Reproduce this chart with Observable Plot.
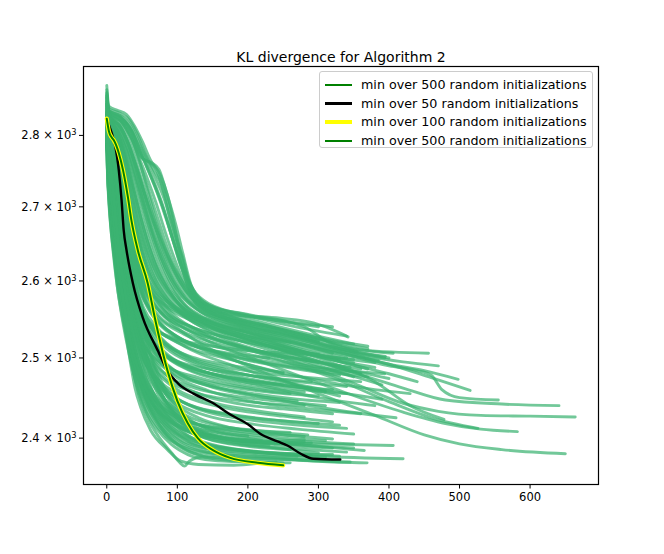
<!DOCTYPE html>
<html><head><meta charset="utf-8">
<script src="https://cdn.jsdelivr.net/npm/d3@7"></script>
<script src="https://cdn.jsdelivr.net/npm/@observablehq/plot@0.6"></script>
<style>
body{margin:0;background:#fff;font-family:"DejaVu Sans",sans-serif;}
#wrap{position:relative;width:664px;height:554px;}
#legend{position:absolute;left:319px;top:71px;width:274px;height:77px;box-sizing:border-box;border:1px solid #cccccc;border-radius:3px;background:rgba(255,255,255,0.8);font-size:12.7px;color:#000;}
.item{position:absolute;left:0;width:100%;height:18px;}
.sw{position:absolute;left:5px;width:27px;top:50%;}
.lab{position:absolute;left:41px;top:0;line-height:18px;white-space:nowrap;}
</style></head>
<body><div id="wrap"></div>
<script>
// ---- data (iteration, KL divergence) ----
const title = "KL divergence for Algorithm 2";
const xTicks = [0, 100, 200, 300, 400, 500, 600];
const yTicks = [2400, 2500, 2600, 2700, 2800];
const legendLabels = [
  "min over 500 random initializations",
  "min over 50 random initializations",
  "min over 100 random initializations",
  "min over 500 random initializations"
];

const best50 = [[0,2824],[3,2815],[8,2800],[12,2785],[17,2751],[21,2709],[24,2668],[28,2641],[37,2597],[51,2552],[72,2510],[86,2484],[102,2467],[123,2455],[151,2443],[175,2429],[200,2417],[218,2405],[242,2396],[256,2391],[275,2381],[293,2375],[331,2374]];
const best100 = [[0,2824],[3,2806],[7,2797],[10,2793],[17,2775],[23,2751],[30,2713],[35,2681],[44,2641],[58,2597],[68,2552],[86,2484],[100,2446],[115,2418],[129,2400],[151,2385],[175,2376],[214,2370],[250,2367]];
const best500 = [[0,2824],[3,2806],[7,2797],[10,2793],[17,2775],[23,2751],[30,2713],[35,2681],[44,2641],[58,2597],[68,2552],[86,2484],[100,2446],[115,2418],[129,2400],[151,2385],[175,2376],[214,2370],[250,2367]];

const lateRuns = [
  [[0,2872],[3,2842],[15,2836],[28,2830],[40,2812],[51,2790],[62,2765],[76,2744],[86,2716],[93,2688],[100,2654],[109,2627],[116,2601],[126,2577],[150,2561],[178,2556],[246,2551],[293,2545],[331,2532],[342,2527]],
  [[0,2866],[3,2838],[18,2832],[32,2822],[44,2800],[55,2772],[66,2752],[78,2730],[88,2700],[96,2670],[105,2635],[114,2603],[124,2582],[145,2567],[200,2556],[280,2540],[317,2519],[364,2510],[456,2506]],
  [[0,2858],[3,2834],[20,2825],[35,2805],[45,2778],[52,2766],[64,2761],[74,2752],[84,2722],[98,2675],[108,2636],[119,2596],[133,2572],[160,2557],[220,2543],[300,2525],[350,2512],[406,2506]],
  [[0,2850],[3,2830],[22,2818],[38,2790],[48,2770],[60,2762],[70,2752],[80,2722],[92,2672],[103,2630],[114,2595],[128,2568],[170,2548],[250,2530],[330,2510],[400,2492],[450,2484],[498,2473]],
  [[0,2846],[3,2828],[20,2812],[32,2785],[42,2755],[54,2716],[66,2680],[78,2650],[90,2623],[104,2598],[120,2578],[150,2558],[220,2535],[320,2510],[400,2490],[440,2484],[460,2478],[475,2460],[500,2450],[555,2447]],
  [[0,2842],[3,2824],[15,2808],[28,2780],[40,2740],[52,2698],[64,2660],[76,2628],[90,2598],[105,2575],[130,2553],[200,2533],[300,2512],[400,2492],[460,2475],[515,2459]],
  [[0,2838],[2,2820],[12,2806],[25,2775],[38,2725],[50,2678],[62,2640],[74,2612],[88,2588],[105,2566],[140,2543],[220,2518],[320,2490],[420,2462],[480,2447],[560,2442],[641,2440]],
  [[0,2834],[2,2818],[10,2804],[22,2770],[34,2715],[46,2665],[58,2627],[70,2600],[85,2578],[100,2562],[150,2532],[250,2500],[350,2468],[420,2443],[470,2433],[530,2428],[600,2427],[664,2426]],
  [[0,2830],[2,2815],[12,2793],[24,2745],[35,2695],[47,2648],[60,2610],[75,2585],[95,2566],[130,2545],[200,2525],[300,2500],[380,2470],[430,2440],[478,2423]],
  [[0,2826],[2,2812],[10,2795],[20,2760],[32,2700],[44,2650],[56,2612],[70,2585],[90,2560],[130,2535],[220,2505],[320,2475],[400,2445],[460,2425],[526,2412]],
  [[0,2822],[2,2808],[10,2788],[20,2745],[30,2690],[42,2640],[55,2600],[70,2575],[90,2553],[130,2528],[220,2495],[320,2462],[420,2432],[480,2418],[530,2411],[582,2408]],
  [[0,2818],[2,2802],[8,2785],[18,2740],[28,2680],[40,2630],[52,2595],[68,2568],[90,2546],[130,2520],[200,2490],[300,2455],[380,2428],[450,2404],[500,2393],[560,2386],[650,2381]],
  [[0,2855],[3,2833],[20,2822],[35,2798],[46,2765],[58,2722],[70,2680],[82,2645],[95,2615],[110,2590],[130,2568],[180,2548],[260,2530],[300,2522]],
  [[0,2848],[3,2829],[18,2815],[30,2790],[42,2750],[54,2705],[66,2665],[80,2630],[95,2600],[112,2578],[140,2560],[200,2545],[280,2525],[360,2505],[394,2500]],
  [[0,2862],[3,2836],[18,2828],[32,2812],[44,2788],[56,2760],[68,2732],[80,2700],[92,2660],[104,2622],[116,2592],[130,2570],[170,2552],[240,2538],[320,2522],[370,2515]],
  [[0,2852],[3,2832],[20,2820],[34,2798],[46,2768],[58,2738],[70,2705],[82,2668],[95,2632],[108,2602],[122,2580],[150,2563],[210,2548],[290,2530],[350,2518]],
  [[0,2844],[3,2827],[18,2812],[30,2788],[42,2754],[54,2715],[66,2676],[78,2640],[92,2608],[106,2585],[125,2565],[170,2545],[250,2525],[330,2505],[385,2497]],
  [[0,2840],[3,2824],[15,2808],[27,2780],[38,2742],[50,2700],[62,2658],[74,2625],[88,2597],[104,2575],[130,2556],[190,2536],[270,2515],[340,2500]],
  [[0,2836],[2,2820],[14,2805],[26,2772],[37,2728],[48,2686],[60,2646],[72,2614],[86,2590],[102,2570],[135,2548],[200,2528],[280,2508],[330,2498]],
  [[0,2857],[3,2835],[20,2826],[36,2806],[48,2776],[60,2748],[72,2718],[84,2684],[97,2646],[110,2612],[123,2588],[145,2570],[200,2555],[270,2545],[320,2540]],
  [[0,2832],[2,2817],[12,2802],[24,2768],[35,2718],[46,2670],[58,2632],[70,2604],[85,2582],[105,2563],[150,2540],[230,2515],[300,2494],[360,2480]],
  [[0,2846],[3,2828],[18,2814],[31,2790],[43,2758],[55,2720],[67,2684],[79,2652],[92,2624],[108,2598],[128,2576],[170,2556],[240,2538],[310,2520],[355,2508]],
  [[0,2828],[2,2812],[10,2796],[22,2758],[33,2706],[45,2656],[57,2618],[70,2592],[88,2570],[115,2550],[170,2528],[250,2505],[330,2482],[390,2466]],
  [[0,2835],[2,2819],[13,2804],[25,2772],[36,2724],[48,2676],[60,2636],[73,2606],[90,2582],[112,2562],[160,2540],[240,2518],[310,2500],[380,2488]],
  [[0,2826],[2,2810],[10,2792],[20,2752],[31,2696],[43,2644],[56,2604],[70,2578],[90,2556],[125,2536],[190,2515],[280,2493],[350,2476]],
  [[0,2843],[3,2825],[16,2810],[29,2782],[41,2744],[53,2702],[65,2662],[77,2630],[91,2602],[107,2580],[130,2562],[180,2546],[260,2528],[300,2520]],
  [[0,2860],[3,2835],[18,2829],[33,2815],[45,2792],[57,2766],[69,2740],[81,2712],[92,2678],[103,2640],[114,2606],[126,2583],[150,2566],[210,2552],[290,2536],[340,2528]],
  [[0,2849],[3,2830],[20,2818],[33,2795],[45,2764],[57,2730],[69,2694],[81,2658],[94,2624],[108,2596],[124,2576],[160,2558],[230,2540],[300,2524],[370,2512]],
  [[0,2841],[3,2825],[17,2810],[29,2784],[40,2748],[52,2708],[64,2668],[76,2634],[90,2604],[106,2580],[132,2560],[190,2540],[270,2518],[320,2506]],
  [[0,2837],[2,2821],[14,2806],[26,2776],[37,2734],[49,2690],[61,2650],[73,2618],[87,2592],[104,2572],[135,2552],[200,2532],[280,2510],[350,2494]],
  [[0,2854],[3,2833],[19,2824],[34,2806],[46,2780],[58,2752],[70,2724],[82,2692],[94,2654],[106,2618],[118,2592],[134,2574],[170,2560],[240,2548],[300,2540]],
  [[0,2833],[2,2818],[12,2803],[24,2770],[35,2722],[47,2674],[59,2636],[72,2607],[87,2585],[106,2566],[150,2545],[230,2522],[310,2500],[370,2486]],
  [[0,2845],[3,2827],[18,2813],[30,2789],[42,2756],[54,2718],[66,2680],[78,2646],[92,2616],[107,2590],[126,2570],[170,2551],[250,2532],[330,2512],[395,2502]],
  [[0,2829],[2,2813],[11,2797],[22,2760],[33,2710],[45,2660],[57,2622],[70,2596],[88,2574],[112,2556],[165,2534],[250,2510],[330,2488],[400,2474]]
];

const midRuns = [
  [[0,2815],[3,2800],[10,2760],[17,2700],[24,2648],[32,2606],[44,2572],[62,2545],[100,2520],[180,2497],[280,2475],[380,2460],[430,2455]],
  [[0,2818],[4,2803],[13,2755],[21,2700],[29,2650],[38,2610],[50,2580],[70,2555],[110,2530],[200,2505],[300,2488],[394,2480]],
  [[0,2822],[4,2808],[15,2760],[24,2700],[32,2652],[42,2612],[54,2585],[74,2562],[120,2540],[200,2520],[280,2505],[350,2498]],
  [[0,2812],[3,2795],[9,2755],[15,2700],[22,2650],[30,2605],[40,2570],[56,2545],[90,2527],[150,2515],[220,2508],[300,2505]],
  [[0,2826],[5,2812],[18,2765],[27,2700],[35,2652],[45,2615],[58,2590],[80,2570],[120,2552],[190,2530],[260,2520]],
  [[0,2808],[3,2790],[8,2750],[14,2700],[20,2650],[27,2600],[36,2560],[50,2530],[80,2505],[140,2482],[220,2465],[300,2450],[380,2440]],
  [[0,2820],[4,2805],[14,2755],[22,2700],[30,2645],[40,2598],[52,2565],[70,2540],[110,2515],[180,2490],[260,2468],[330,2452]],
  [[0,2830],[6,2815],[20,2765],[30,2700],[38,2650],[48,2610],[62,2585],[85,2565],[130,2545],[220,2520],[330,2495],[400,2480],[440,2470]],
  [[0,2810],[3,2793],[10,2750],[16,2700],[23,2645],[31,2595],[42,2555],[58,2525],[90,2500],[150,2485],[220,2476],[290,2470]],
  [[0,2816],[4,2800],[12,2755],[19,2700],[27,2642],[36,2592],[48,2550],[64,2515],[95,2485],[150,2465],[240,2448],[330,2434],[410,2425]],
  [[0,2813],[3,2797],[10,2755],[17,2700],[25,2640],[34,2590],[46,2548],[62,2512],[90,2482],[140,2460],[220,2443],[300,2435],[360,2430]],
  [[0,2824],[5,2810],[16,2760],[25,2700],[33,2648],[43,2605],[56,2572],[76,2545],[110,2522],[170,2500],[250,2480]],
  [[0,2806],[3,2788],[8,2748],[13,2700],[19,2645],[26,2590],[35,2545],[48,2505],[70,2475],[110,2452],[170,2437],[250,2427],[320,2420]],
  [[0,2834],[6,2820],[22,2768],[32,2700],[40,2650],[50,2612],[64,2588],[88,2568],[140,2548],[240,2525],[350,2505],[420,2495],[470,2490]],
  [[0,2819],[4,2804],[13,2758],[20,2700],[28,2645],[37,2598],[48,2565],[66,2540],[100,2522],[160,2508],[230,2500]],
  [[0,2828],[5,2814],[18,2765],[28,2700],[36,2650],[46,2608],[60,2578],[80,2555],[120,2535],[200,2512],[280,2498],[345,2488]],
  [[0,2811],[3,2795],[9,2752],[15,2700],[22,2643],[30,2590],[40,2545],[54,2508],[78,2478],[120,2458],[200,2445],[280,2440]],
  [[0,2838],[6,2824],[24,2770],[34,2700],[42,2652],[52,2615],[66,2590],[90,2570],[150,2548],[250,2528],[330,2512],[400,2500]],
  [[0,2823],[5,2808],[16,2757],[24,2700],[31,2646],[40,2598],[52,2560],[70,2530],[105,2505],[170,2485],[260,2468],[340,2455],[390,2448]],
  [[0,2809],[3,2792],[9,2752],[15,2700],[21,2648],[29,2596],[39,2552],[53,2518],[80,2492],[130,2475],[200,2462],[260,2455]],
  [[0,2813],[3,2796],[10,2752],[16,2700],[23,2648],[31,2600],[41,2562],[55,2532],[76,2508],[110,2490],[160,2478],[230,2468],[290,2462]],
  [[0,2804],[3,2784],[8,2745],[13,2700],[19,2650],[26,2602],[35,2560],[47,2526],[66,2500],[95,2480],[140,2466],[200,2456],[270,2448],[330,2444]],
  [[0,2818],[4,2802],[13,2756],[20,2702],[28,2648],[37,2602],[48,2564],[63,2534],[85,2512],[120,2494],[180,2478],[250,2466],[310,2458]],
  [[0,2808],[3,2790],[9,2748],[14,2700],[21,2642],[29,2590],[39,2546],[52,2510],[71,2482],[100,2460],[145,2445],[210,2434],[280,2426]],
  [[0,2821],[4,2806],[14,2758],[22,2700],[30,2645],[39,2600],[50,2564],[66,2536],[90,2514],[125,2500],[180,2490],[250,2482]],
  [[0,2811],[3,2793],[10,2750],[16,2700],[23,2644],[31,2594],[41,2552],[55,2516],[74,2488],[100,2468],[140,2452],[190,2442],[250,2436],[320,2430]],
  [[0,2825],[5,2810],[16,2760],[25,2700],[33,2646],[42,2604],[54,2572],[70,2548],[95,2528],[135,2512],[195,2498],[270,2486],[330,2478]],
  [[0,2807],[3,2786],[9,2740],[14,2690],[20,2638],[28,2588],[37,2544],[49,2506],[65,2476],[88,2454],[120,2440],[170,2430],[230,2423],[300,2418]],
  [[0,2815],[4,2798],[12,2752],[18,2702],[25,2648],[34,2598],[44,2558],[58,2524],[78,2497],[108,2477],[150,2463],[210,2452],[270,2446]],
  [[0,2830],[5,2815],[19,2764],[29,2700],[37,2650],[47,2610],[60,2580],[78,2558],[105,2540],[150,2524],[220,2508],[300,2494],[360,2486]],
  [[0,2817],[4,2800],[12,2754],[19,2698],[26,2645],[35,2598],[46,2560],[61,2528],[82,2504],[115,2486],[165,2474],[230,2465],[300,2458],[340,2455]]
];

const lowRuns = [
  [[0,2782],[1,2745],[3,2705],[6,2668],[10,2635],[15,2592],[21,2558],[27,2530],[33,2497],[40,2462],[48,2438],[62,2410],[86,2386],[105,2372],[130,2368],[180,2367],[220,2370]],
  [[0,2790],[2,2750],[5,2700],[9,2655],[14,2610],[20,2570],[28,2530],[36,2490],[45,2455],[58,2425],[75,2400],[92,2382],[104,2370],[110,2366],[117,2372],[135,2377],[180,2376],[260,2374],[330,2372]],
  [[0,2795],[2,2765],[6,2715],[10,2670],[16,2620],[24,2575],[32,2540],[42,2500],[54,2465],[68,2438],[88,2414],[115,2396],[150,2385],[220,2378],[300,2372],[369,2370]],
  [[0,2800],[3,2770],[8,2715],[13,2665],[20,2615],[28,2575],[38,2535],[50,2495],[64,2460],[80,2435],[105,2410],[140,2393],[200,2384],[300,2378],[420,2375]],
  [[0,2805],[3,2775],[9,2720],[15,2665],[22,2620],[30,2585],[40,2550],[52,2510],[66,2475],[84,2445],[110,2420],[150,2402],[220,2395],[300,2393],[406,2391]],
  [[0,2808],[3,2785],[10,2725],[17,2665],[25,2615],[34,2575],[45,2535],[58,2495],[74,2460],[95,2432],[125,2410],[170,2397],[240,2388],[300,2382]],
  [[0,2812],[3,2790],[11,2730],[19,2665],[27,2615],[36,2575],[48,2530],[62,2485],[80,2448],[104,2420],[140,2400],[200,2390],[260,2386]],
  [[0,2800],[2,2770],[7,2715],[12,2660],[18,2610],[26,2565],[35,2520],[46,2475],[60,2440],[78,2412],[100,2393],[130,2380],[180,2374],[250,2370]],
  [[0,2816],[3,2796],[12,2735],[21,2665],[30,2610],[40,2565],[52,2520],[66,2478],[84,2445],[108,2420],[145,2405],[210,2395],[280,2398]],
  [[0,2820],[4,2800],[14,2740],[23,2670],[32,2615],[42,2570],[55,2525],[70,2480],[90,2445],[115,2420],[150,2405],[200,2397],[250,2393],[350,2388]],
  [[0,2806],[3,2780],[10,2720],[16,2670],[24,2620],[33,2575],[44,2530],[56,2490],[72,2455],[92,2430],[120,2412],[160,2402],[220,2397]],
  [[0,2798],[2,2770],[7,2720],[13,2665],[20,2610],[28,2565],[38,2520],[50,2480],[64,2450],[82,2425],[110,2405],[150,2392],[210,2384],[290,2380],[330,2378]],
  [[0,2803],[2,2776],[8,2720],[14,2660],[22,2605],[31,2560],[42,2515],[54,2478],[70,2450],[92,2425],[125,2408],[180,2398],[240,2393],[280,2395]],
  [[0,2790],[2,2755],[5,2712],[9,2668],[14,2622],[20,2585],[28,2548],[38,2510],[50,2472],[64,2440],[82,2415],[104,2398],[140,2388],[200,2382],[270,2378]],
  [[0,2810],[3,2790],[12,2735],[20,2675],[28,2625],[38,2580],[50,2540],[64,2500],[82,2462],[106,2432],[140,2412],[200,2400],[300,2390],[365,2385]],
  [[0,2786],[1,2748],[3,2712],[6,2675],[10,2640],[15,2600],[21,2565],[28,2528],[36,2490],[45,2458],[56,2432],[72,2410],[92,2392],[115,2380],[150,2373],[200,2371],[260,2370]],
  [[0,2792],[2,2756],[5,2710],[9,2665],[14,2618],[20,2576],[27,2540],[35,2505],[45,2470],[58,2440],[75,2416],[96,2398],[125,2386],[170,2380],[230,2377],[300,2376]],
  [[0,2797],[2,2764],[6,2716],[11,2666],[17,2614],[24,2570],[33,2528],[44,2488],[57,2455],[74,2430],[97,2410],[128,2396],[170,2388],[230,2382],[290,2379]],
  [[0,2788],[1,2752],[4,2706],[7,2668],[11,2630],[17,2590],[24,2552],[32,2514],[41,2478],[52,2450],[67,2424],[86,2402],[110,2386],[140,2377],[190,2372],[240,2371]],
  [[0,2802],[3,2776],[8,2722],[13,2668],[19,2616],[27,2570],[36,2528],[47,2490],[61,2458],[80,2432],[104,2414],[140,2400],[190,2392],[250,2388],[340,2383]],
  [[0,2794],[2,2760],[6,2712],[10,2664],[15,2616],[22,2570],[30,2528],[40,2488],[52,2456],[68,2430],[90,2410],[118,2396],[160,2387],[220,2382],[310,2377]],
  [[0,2809],[3,2786],[10,2730],[16,2672],[23,2620],[32,2574],[42,2532],[55,2494],[71,2462],[92,2437],[120,2420],[160,2408],[220,2400],[300,2395],[350,2393]],
  [[0,2785],[1,2750],[3,2710],[6,2670],[10,2630],[16,2585],[23,2545],[31,2508],[40,2474],[51,2446],[65,2422],[84,2402],[106,2390],[135,2382],[180,2378]],
  [[0,2812],[3,2790],[11,2732],[18,2670],[26,2616],[35,2572],[46,2530],[60,2492],[77,2462],[100,2440],[130,2425],[175,2413],[240,2405],[320,2399]],
  [[0,2791],[2,2756],[5,2712],[9,2666],[14,2620],[20,2578],[28,2536],[37,2498],[48,2464],[62,2436],[80,2414],[103,2397],[135,2385],[180,2378],[250,2374],[345,2371]]
];

const extraRuns = [
  [[0,2801],[2,2772],[7,2718],[12,2665],[18,2615],[25,2572],[34,2530],[45,2492],[58,2462],[76,2440],[100,2425],[140,2415],[200,2410],[260,2407]],
  [[0,2807],[3,2784],[9,2730],[15,2672],[22,2620],[30,2580],[40,2545],[52,2515],[68,2492],[90,2475],[125,2462],[180,2452],[240,2446],[310,2440]],
  [[0,2814],[3,2797],[11,2745],[18,2690],[25,2640],[33,2600],[43,2565],[56,2535],[74,2512],[100,2495],[140,2482],[200,2472],[250,2466]],
  [[0,2819],[4,2802],[14,2750],[21,2695],[29,2642],[38,2600],[49,2567],[64,2540],[86,2518],[120,2500],[170,2488],[230,2480],[300,2474],[360,2470]],
  [[0,2797],[2,2765],[6,2720],[11,2668],[17,2615],[24,2570],[33,2525],[44,2485],[58,2452],[78,2428],[105,2412],[150,2402],[210,2397],[290,2394]],
  [[0,2804],[3,2780],[9,2725],[15,2668],[22,2618],[30,2578],[40,2540],[53,2505],[70,2475],[95,2452],[130,2437],[180,2428],[250,2421],[330,2416]],
  [[0,2825],[5,2810],[16,2758],[25,2698],[33,2647],[42,2608],[54,2575],[70,2550],[95,2530],[140,2512],[200,2498],[280,2486],[370,2476]],
  [[0,2811],[3,2794],[10,2748],[17,2690],[24,2638],[33,2592],[44,2552],[58,2520],[78,2496],[105,2480],[150,2468],[220,2458],[300,2452]],
  [[0,2793],[2,2760],[5,2715],[9,2670],[14,2620],[21,2575],[29,2535],[39,2495],[52,2462],[70,2437],[95,2418],[130,2405],[180,2397],[240,2392],[320,2388]],
  [[0,2817],[4,2800],[13,2752],[21,2690],[29,2635],[38,2592],[50,2555],[66,2525],[88,2503],[120,2488],[170,2476],[240,2466],[320,2460]],
  [[0,2828],[5,2814],[18,2764],[28,2700],[36,2648],[46,2606],[58,2576],[76,2552],[105,2535],[150,2520],[220,2506],[300,2495]],
  [[0,2809],[3,2790],[9,2740],[15,2680],[22,2625],[30,2582],[41,2540],[55,2502],[73,2472],[98,2450],[135,2434],[190,2424],[260,2417],[340,2412]],
  [[0,2800],[2,2770],[7,2715],[12,2660],[19,2603],[27,2555],[37,2510],[49,2472],[64,2445],[85,2424],[115,2408],[160,2398],[230,2391]],
  [[0,2822],[4,2806],[15,2755],[23,2695],[31,2640],[40,2597],[52,2560],[68,2532],[92,2510],[130,2493],[190,2480],[270,2470],[340,2464]],
  [[0,2805],[3,2780],[9,2722],[15,2664],[22,2612],[31,2568],[42,2528],[56,2493],[74,2465],[100,2443],[140,2428],[200,2418],[270,2411],[350,2405]],
  [[0,2832],[6,2818],[21,2766],[31,2700],[39,2650],[49,2610],[62,2582],[82,2560],[115,2542],[170,2526],[250,2512],[330,2500],[380,2494]],
  [[0,2795],[2,2763],[6,2712],[10,2662],[16,2610],[23,2562],[32,2518],[43,2480],[57,2450],[76,2425],[102,2405],[140,2392],[190,2385],[260,2381],[320,2380]],
  [[0,2815],[4,2798],[12,2748],[19,2690],[27,2636],[36,2592],[47,2556],[62,2526],[84,2502],[115,2485],[160,2472],[220,2462],[280,2457]],
  [[0,2799],[2,2768],[7,2714],[12,2660],[18,2608],[26,2562],[35,2520],[46,2484],[60,2456],[80,2434],[108,2418],[150,2408],[200,2403]],
  [[0,2826],[5,2811],[17,2760],[26,2700],[34,2648],[44,2604],[56,2572],[74,2546],[100,2527],[145,2511],[210,2498],[290,2487],[350,2482]],
  [[0,2796],[2,2766],[6,2722],[10,2678],[15,2630],[22,2582],[30,2540],[40,2502],[53,2470],[70,2446],[95,2428],[135,2415],[190,2406],[250,2400],[310,2397]],
  [[0,2801],[2,2774],[7,2726],[12,2674],[18,2622],[25,2576],[34,2534],[45,2496],[59,2466],[78,2443],[104,2426],[145,2414],[200,2407],[280,2402]],
  [[0,2799],[2,2770],[6,2725],[11,2672],[17,2618],[24,2570],[32,2528],[43,2490],[56,2460],[74,2436],[98,2418],[130,2406],[180,2398],[240,2395]],
  [[0,2803],[3,2780],[8,2732],[13,2680],[19,2628],[27,2580],[36,2538],[48,2500],[63,2470],[84,2446],[112,2428],[155,2416],[215,2409],[285,2404]]
];

// ---- build tables ----
const allRuns = [...lateRuns, ...midRuns, ...lowRuns, ...extraRuns];
const runRows = allRuns.flatMap((r, i) => r.map(([x, y]) => ({run: i, x, y})));
const rowsOf = (r) => r.map(([x, y]) => ({x, y}));

const legendStyles = [
  {color: "#008000", width: 2},
  {color: "#000000", width: 2.4},
  {color: "#ffff00", width: 4.2},
  {color: "#008000", width: 2}
];

const chart = Plot.plot({
  width: 664, height: 554,
  marginLeft: 83, marginRight: 66, marginTop: 66, marginBottom: 70,
  style: {fontFamily: "DejaVu Sans", fontSize: "11.5px", color: "black", background: "white"},
  x: {domain: [-33, 697]},
  y: {type: "log", domain: [2344, 2900]},
  marks: [
    Plot.line(runRows, {x: "x", y: "y", z: "run", stroke: "#3cb371", strokeOpacity: 0.72, strokeWidth: 2.9, curve: "monotone-x"}),
    Plot.line(rowsOf(best50), {x: "x", y: "y", stroke: "black", strokeWidth: 2.4, curve: "monotone-x"}),
    Plot.line(rowsOf(best100), {x: "x", y: "y", stroke: "#ffff00", strokeWidth: 4.2, curve: "monotone-x"}),
    Plot.line(rowsOf(best500), {x: "x", y: "y", stroke: "#008000", strokeWidth: 2, curve: "monotone-x"}),
    Plot.frame({stroke: "black", strokeWidth: 1.2}),
    Plot.axisX({ticks: xTicks, tickSize: 4.5, tickPadding: 4, label: null, tickFormat: d => String(d)}),
    Plot.axisY({ticks: yTicks, tickSize: 4, tickPadding: 3, label: null,
      tickFormat: d => (d / 1000).toFixed(1) + " × 10"}),
    Plot.text([title], {text: d => d, frameAnchor: "top", dy: -14, fontSize: 14})
  ]
});

// exponent as a real superscript on the y tick labels
chart.querySelectorAll('g[aria-label="y-axis tick label"] text').forEach(t => {
  const sup = document.createElementNS("http://www.w3.org/2000/svg", "tspan");
  sup.setAttribute("dy", "-0.45em");
  sup.setAttribute("font-size", "0.72em");
  sup.textContent = "3";
  t.appendChild(sup);
});

const wrap = document.getElementById("wrap");
wrap.appendChild(chart);

const legend = document.createElement("div");
legend.id = "legend";
legendLabels.forEach((lab, i) => {
  const item = document.createElement("div");
  item.className = "item";
  item.style.top = (4 + i * 18.5) + "px";
  const sw = document.createElement("div");
  sw.className = "sw";
  sw.style.height = legendStyles[i].width + "px";
  sw.style.marginTop = (-legendStyles[i].width / 2) + "px";
  sw.style.background = legendStyles[i].color;
  const t = document.createElement("div");
  t.className = "lab";
  t.textContent = lab;
  item.appendChild(sw);
  item.appendChild(t);
  legend.appendChild(item);
});
wrap.appendChild(legend);
</script></body></html>
